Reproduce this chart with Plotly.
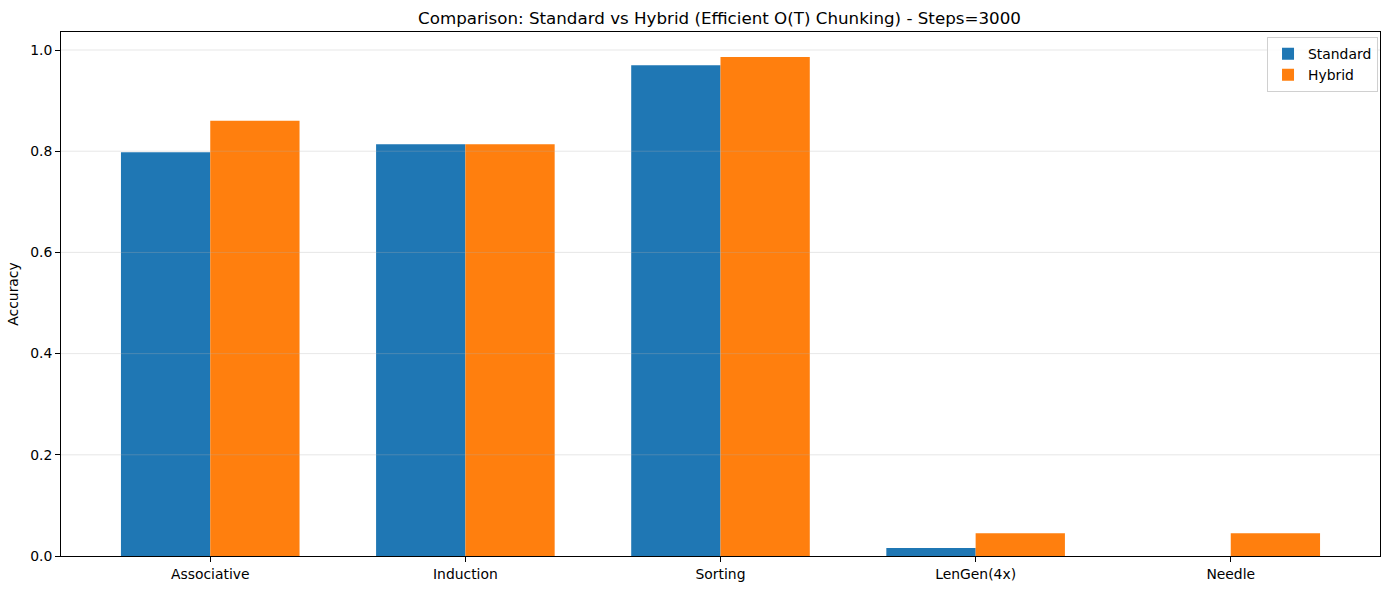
import plotly.graph_objects as go

categories = ["Associative", "Induction", "Sorting", "LenGen(4x)", "Needle"]
standard = [0.798, 0.814, 0.970, 0.016, 0.0]
hybrid = [0.860, 0.814, 0.986, 0.045, 0.045]
y_ticks = [0.0, 0.2, 0.4, 0.6, 0.8, 1.0]

fig = go.Figure()
fig.add_trace(go.Bar(x=categories, y=standard, name="Standard", marker_color="#1f77b4", marker_line_width=0))
fig.add_trace(go.Bar(x=categories, y=hybrid, name="Hybrid", marker_color="#ff7f0e", marker_line_width=0))

font = "DejaVu Sans"
# gridlines drawn above bars (like matplotlib's alpha grid)
for t in y_ticks[1:]:
    fig.add_shape(type="line", xref="paper", yref="y", x0=0, x1=1, y0=t, y1=t,
                  line=dict(color="rgba(176,176,176,0.3)", width=1), layer="above")

fig.update_layout(
    width=1389, height=590,
    paper_bgcolor="white", plot_bgcolor="white",
    margin=dict(l=61, r=9, t=32, b=34, autoexpand=False),
    barmode="group", bargap=0.3, bargroupgap=0,
    title=dict(text="Comparison: Standard vs Hybrid (Efficient O(T) Chunking) - Steps=3000",
               x=(61 + 1378) / 2 / 1389, xanchor="center", y=1 - 18 / 590, yanchor="middle",
               font=dict(family=font, size=16.7, color="black")),
    font=dict(family=font, size=13.9, color="black"),
    legend=dict(x=0.9985, xanchor="right", y=0.99, yanchor="top",
                bordercolor="#d0d0d0", borderwidth=1, bgcolor="rgba(255,255,255,0.8)",
                font=dict(family=font, size=13.9), itemwidth=30),
    xaxis=dict(range=[-0.585, 4.585], showline=True, linecolor="black", linewidth=1, mirror=True,
               ticks="outside", ticklen=5, tickcolor="black", showgrid=False, automargin=False,
               tickfont=dict(family=font, size=13.9)),
    yaxis=dict(range=[0, 1.0356], showline=True, linecolor="black", linewidth=1, mirror=True,
               ticks="outside", ticklen=5, tickcolor="black", showgrid=False, automargin=False,
               tickvals=y_ticks, ticktext=[f"{v:.1f}" for v in y_ticks],
               tickfont=dict(family=font, size=13.9), zeroline=False,
               title=dict(text="Accuracy", font=dict(family=font, size=13.9), standoff=8)),
)

fig.write_html("out.html", config={"displayModeBar": False},
               post_script="document.body.style.margin='0';document.body.style.padding='0';"
                           "document.documentElement.style.overflow='hidden';")
